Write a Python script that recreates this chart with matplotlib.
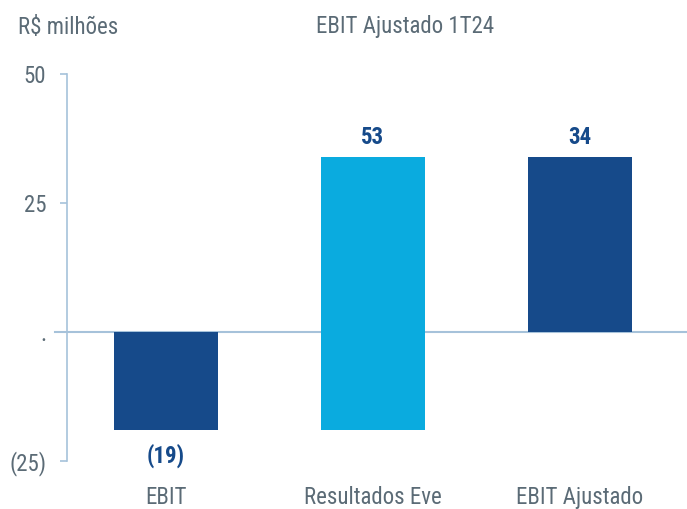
import matplotlib
matplotlib.use("Agg")
import matplotlib.pyplot as plt
from matplotlib import font_manager

# data (R$ milhões)
categories = ["EBIT", "Resultados Eve", "EBIT Ajustado"]
values = [-19, 53, 34]
value_labels = ["(19)", "53", "34"]
ytick_vals = [-25, 0, 25, 50]
ytick_labels = ["(25)", ".", "25", "50"]

dark_blue = "#164a8a"
light_blue = "#0aabdf"
axis_col = "#a6c2da"
text_col = "#5b6b76"

names = {f.name for f in font_manager.fontManager.ttflist}
font = "DejaVu Sans"
for cand in ["Roboto Condensed", "Liberation Sans Narrow", "Open Sans Condensed", "Roboto"]:
    if cand in names:
        font = cand
        break
plt.rcParams["font.family"] = [font, "DejaVu Sans"]

fig = plt.figure(figsize=(6.87, 5.09), dpi=100)
ax = fig.add_axes([67 / 687, 1 - 461 / 509, 1 - 67 / 687, (461 - 74) / 509])

# waterfall: start, delta, end
bottoms = [0, values[0], 0]
heights = [values[0], values[1], values[0] + values[1]]
colors = [dark_blue, light_blue, dark_blue]
x = list(range(len(categories)))
ax.bar(x, heights, bottom=bottoms, width=0.5, color=colors, zorder=2)

ax.axhline(0, color=axis_col, lw=1.5, zorder=1, xmin=-0.02, clip_on=False)

for i, (b, h, lab) in enumerate(zip(bottoms, heights, value_labels)):
    if h < 0:
        ax.text(i, b + h - 2.6, lab, ha="center", va="top", fontsize=16.5,
                fontweight="bold", color=dark_blue)
    else:
        ax.text(i, b + h + 1.4, lab, ha="center", va="bottom", fontsize=16.5,
                fontweight="bold", color=dark_blue)

ax.set_xlim(-0.478, 2.517)
ax.set_ylim(-25, 50)
ax.set_yticks(ytick_vals)
ax.set_yticklabels(ytick_labels)
ax.set_xticks(x)
ax.set_xticklabels(categories)
ax.tick_params(axis="y", colors=axis_col, labelcolor=text_col, labelsize=16.5,
               length=5, width=1.2, pad=10)
ax.tick_params(axis="x", length=0, labelcolor=text_col, labelsize=16.5, pad=18)

for s in ["top", "right", "bottom"]:
    ax.spines[s].set_visible(False)
ax.spines["left"].set_color(axis_col)
ax.spines["left"].set_linewidth(1.2)

fig.text(18 / 687, 1 - 27 / 509, "R$ milhões", ha="left", va="center",
         fontsize=16.5, color=text_col)
fig.text(405 / 687, 1 - 27 / 509, "EBIT Ajustado 1T24", ha="center",
         va="center", fontsize=16.5, color=text_col)

fig.savefig("out.png", dpi=100)
